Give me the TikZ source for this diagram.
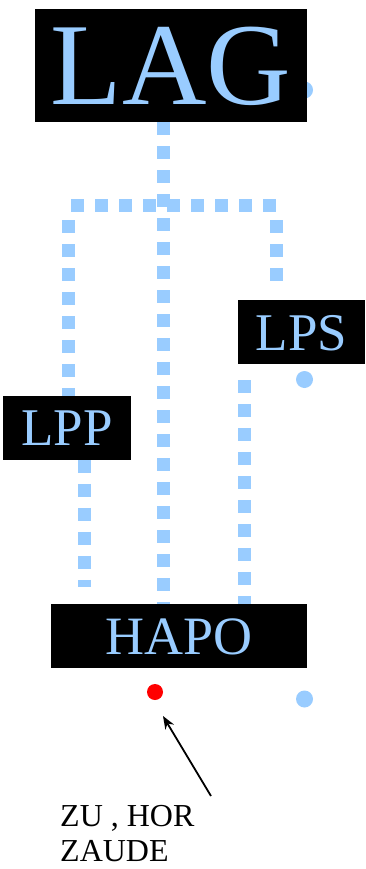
\documentclass[tikz,border=0pt]{standalone}
\usepackage{fontspec}
\setmainfont{Liberation Serif}
\usetikzlibrary{arrows.meta}
\definecolor{lblue}{HTML}{99CCFF}
\pgfdeclarelayer{bg}
\pgfsetlayers{bg,main}
\begin{document}
\begin{tikzpicture}[x=1pt,y=-1pt,
  box/.style={fill=black,text=lblue,inner xsep=0pt,inner ysep=0pt,anchor=base},
  dots/.style={draw=lblue,line width=13pt,dash pattern=on 13pt off 11pt},
  blob/.style={circle,fill=lblue,minimum size=17pt,inner sep=0pt},
  reddot/.style={circle,fill=red,minimum size=16pt,inner sep=0pt}]
\useasboundingbox (0,0) rectangle (365,869);
\node[box,minimum width=272pt,text height=96pt,text depth=17pt,font=\fontsize{117}{117}\selectfont] (LAG) at (171,105) {LAG};
\node[box,minimum width=127pt,text height=50pt,text depth=14pt,font=\fontsize{53}{53}\selectfont] (LPS) at (301.5,350) {LPS};
\node[box,minimum width=128pt,text height=50pt,text depth=14pt,font=\fontsize{53}{53}\selectfont] (LPP) at (67,445.7) {LPP};
\node[box,minimum width=256pt,text height=50pt,text depth=14pt,font=\fontsize{54}{54}\selectfont] (HAPO) at (179,654) {HAPO};
\coordinate (jc) at (163.5,205.5);
\coordinate (jl) at (68.5,205.5);
\coordinate (jr) at (276.5,205.5);
\coordinate (xl) at (84.5,0);
\coordinate (xr) at (244.5,0);
\begin{pgfonlayer}{bg}
\node[blob] (d1) at (304.5,90) {};
\node[blob] (d2) at (304.5,379.5) {};
\node[blob] (d3) at (304.5,699) {};
\draw[dots] (LAG.south -| jc) -- (HAPO.north -| jc);
\draw[dots] ([xshift=2.5pt]jl) -- ([xshift=-0.5pt]jr);
\draw[dots] ([yshift=-14.5pt]jl) -- (LPP.north -| jl);
\draw[dots] ([yshift=-14.5pt]jr) -- ([yshift=19pt]LPS.north -| jr);
\draw[dots] (LPP.south -| xl) -- ([yshift=17pt]HAPO.north -| xl);
\draw[dots] ([yshift=-16pt]LPS.south -| xr) -- (HAPO.north -| xr);
\end{pgfonlayer}
\node[reddot] (rd) at (155,692) {};
\coordinate (atail) at (211,796);
\coordinate (atip) at (163,716);
\draw[line width=1.8pt,-{Stealth[length=13pt,width=10pt]}] (atail) -- (atip);
\node[anchor=base west,align=left,inner sep=0pt,text depth=0pt,font=\fontsize{32}{35}\selectfont] (lbl) at (60,861) {ZU , HOR\\ZAUDE};
\end{tikzpicture}
\end{document}
